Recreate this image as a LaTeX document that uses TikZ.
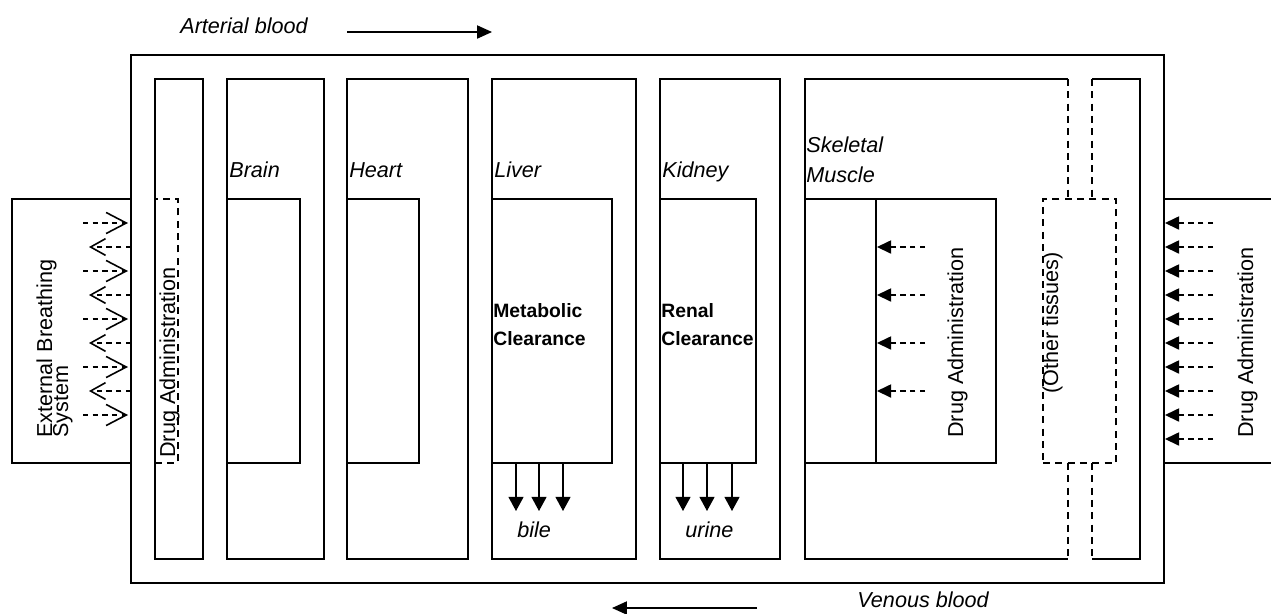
\documentclass[tikz,border=0pt]{standalone}
\usepackage{fontspec}
\setmainfont{Liberation Sans}
\usetikzlibrary{arrows.meta, positioning, fit}

\begin{document}
\begin{tikzpicture}[x=0.02cm, y=-0.02cm,
    box/.style={draw, line width=0.75pt, inner sep=0pt},
    dbox/.style={box, dash pattern=on 4pt off 3pt},
    lbl/.style={font=\fontsize{12.3}{15}\selectfont\itshape, inner sep=0pt, anchor=base west},
    txt/.style={font=\fontsize{12.3}{15}\selectfont, inner sep=0pt, rotate=90, anchor=base west},
    clr/.style={font=\fontsize{11}{13}\selectfont\bfseries, inner sep=0pt, anchor=base west},
    flow/.style={line width=0.75pt, -{Triangle[length=8.5pt, width=7.5pt]}},
    excr/.style={line width=0.75pt, -{Triangle[length=8pt, width=8.5pt]}},
    dose/.style={line width=0.75pt, dash pattern=on 3pt off 2.5pt, -{Triangle[length=8pt, width=7.5pt]}},
    gasin/.style={line width=0.75pt, dash pattern=on 3pt off 2.5pt, -{Straight Barb[length=11.5pt, width=12pt, line width=0.9pt]}},
    gasout/.style={line width=0.75pt, dash pattern=on 3pt off 2.5pt, -{Straight Barb[length=8.5pt, width=9.5pt, line width=0.9pt]}}
]
\useasboundingbox (0,0) rectangle (1271,613);

% Body and organ columns
\node[box, fit={(131,55) (1164,583)}] (body) {};
\node[box, fit={(155,79) (203,559)}] (blood) {};
\node[box, fit={(227,79) (324,559)}] (brain) {};
\node[box, fit={(347,79) (468,559)}] (heart) {};
\node[box, fit={(492,79) (636,559)}] (liver) {};
\node[box, fit={(660,79) (780,559)}] (kidney) {};
\draw[box] (1068,79) -| (805,559) -- (1068,559);
\draw[box] (1092,79) -| (1140,559) -- (1092,559);

% Tissue boxes
\node[box, fit={(227,199) (300,463)}] (brainin) {};
\node[box, fit={(347,199) (419,463)}] (heartin) {};
\node[box, fit={(492,199) (612,463)}] (liverin) {};
\node[box, fit={(660,199) (756,463)}] (kidneyin) {};
\node[box, fit={(805,199) (876,463)}] (musclein) {};
\node[box, fit={(876,199) (996,463)}] (muscledose) {};

% Other tissues, open channel
\node[dbox, fit={(1043,199) (1116,463)}] (other) {};
\draw[dbox] (1068,79) -- (1068,199);
\draw[dbox] (1092,79) -- (1092,199);
\draw[dbox] (1068,463) -- (1068,559);
\draw[dbox] (1092,463) -- (1092,559);

% Intravenous dosing inside the blood column
\node[dbox, fit={(155,199) (178,463)}] (iv) {};
\node[txt] (ivlbl) at (175,458) {Drug Administration};

% Lungs / breathing system
\node[box, fill=white, fit={(12,199) (131,463)}] (breath) {};
\node[txt] (breath1) at (52,438) {External Breathing};
\node[txt] (breath2) at (68,438) {System};
\foreach \y [count=\i] in {223,271,319,367,415} {
  \coordinate (gi\i) at (83,\y);
  \coordinate (go\i) at (128,\y);
  \draw[gasin] (gi\i) -- (go\i);
}
\foreach \y [count=\i] in {247,295,343,391} {
  \coordinate (ga\i) at (131,\y);
  \coordinate (gb\i) at (89,\y);
  \draw[gasout] (ga\i) -- (gb\i);
}

% External dosing on the right
\draw[box, fill=white] (1271,199) -| (1164,463) -- (1271,463);
\node[txt] (extlbl) at (1253,438) {Drug Administration};
\foreach \y [count=\i] in {223,247,...,439} {
  \coordinate (ea\i) at (1213,\y);
  \coordinate (eb\i) at (1165,\y);
  \draw[dose] (ea\i) -- (eb\i);
}

% Muscle dosing
\node[txt] (imlbl) at (963,438) {Drug Administration};
\foreach \y [count=\i] in {247,295,343,391} {
  \coordinate (ma\i) at (925,\y);
  \coordinate (mb\i) at (877,\y);
  \draw[dose] (ma\i) -- (mb\i);
}
\node[txt, anchor=base] (otherlbl) at (1058,323) {(Other tissues)};

% Organ labels
\node[lbl] (brainlbl) at (229,177) {Brain};
\node[lbl] (heartlbl) at (349,177) {Heart};
\node[lbl] (liverlbl) at (494,177) {Liver};
\node[lbl] (kidneylbl) at (662,177) {Kidney};
\node[lbl] (skel1) at (806,152) {Skeletal};
\node[lbl] (skel2) at (806,182) {Muscle};

% Clearance
\node[clr] (met1) at (493,317) {Metabolic};
\node[clr] (met2) at (493,345) {Clearance};
\node[clr] (ren1) at (661,317) {Renal};
\node[clr] (ren2) at (661,345) {Clearance};
\foreach \x [count=\i] in {516,539,563} {
  \coordinate (bile\i) at (\x,511);
  \draw[excr] (liverin.south -| bile\i) -- (bile\i);
}
\foreach \x [count=\i] in {683,707,732} {
  \coordinate (urine\i) at (\x,511);
  \draw[excr] (kidneyin.south -| urine\i) -- (urine\i);
}
\node[lbl] (bile) at (517,537) {bile};
\node[lbl] (urine) at (685,537) {urine};

% Blood flow direction
\node[lbl] (artlbl) at (180,33) {Arterial blood};
\coordinate (art0) at (347,32);
\coordinate (art1) at (492,32);
\draw[flow] (art0) -- (art1);
\node[lbl] (venlbl) at (857,607) {Venous blood};
\coordinate (ven0) at (757,608);
\coordinate (ven1) at (612,608);
\draw[flow] (ven0) -- (ven1);
\end{tikzpicture}
\end{document}
